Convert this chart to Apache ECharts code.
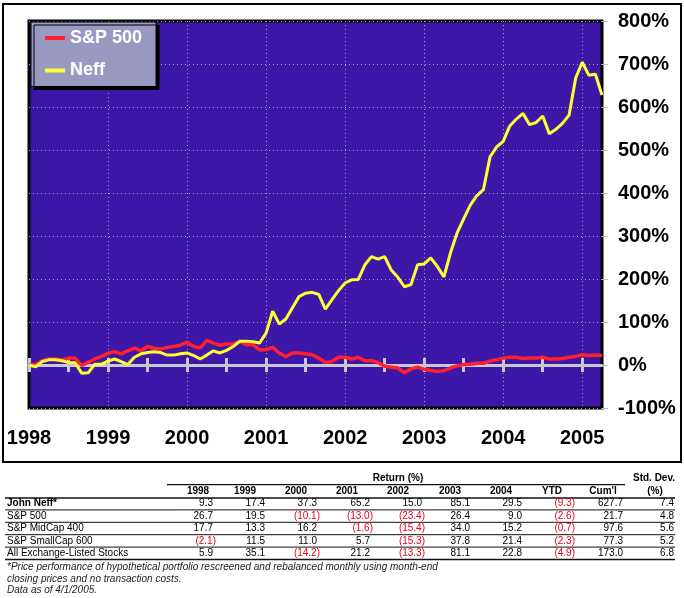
<!DOCTYPE html>
<html>
<head>
<meta charset="utf-8">
<script src="https://cdn.jsdelivr.net/npm/echarts@6/dist/echarts.min.js"></script>
<style>
  html, body { margin: 0; padding: 0; background: #fff; }
  #chart { width: 684px; height: 598px; }
</style>
</head>
<body>
<div id="chart"></div>
<script>
// monthly cumulative return (%), start of Jan 1998 .. start of Apr 2005
var sp500 = [
  0, 1, 10, 14, 14, 12, 16, 16, -1, 6, 14, 20,
  27, 31, 26, 33, 39, 33, 43, 39, 37, 41, 43, 46,
  53, 43, 40, 57, 51, 46, 49, 49, 55, 47, 47, 35,
  36, 41, 28, 19, 28, 28, 26, 24, 16, 6, 8, 18,
  18, 14, 18, 10, 10, 6, -3, -5, -7, -18, -9, -5,
  -10, -13, -15, -13, -7, -2, 1, 2, 4, 4, 9, 12,
  16, 18, 18, 15, 16, 16, 18, 14, 14, 15, 18, 20,
  24, 22, 23, 22
];
var neff = [
  0, -4, 8, 12, 12, 10, 6, 5, -19, -18, 2, 2,
  9, 14, 8, 1, 18, 26, 29, 31, 29, 23, 23, 26,
  28, 22, 14, 23, 33, 28, 34, 43, 55, 55, 54, 51,
  74, 125, 95, 107, 133, 159, 167, 169, 164, 130, 152, 173,
  191, 198, 199, 233, 252, 246, 252, 221, 204, 182, 187, 233,
  235, 249, 229, 205, 261, 307, 340, 372, 394, 408, 484, 507,
  520, 556, 572, 585, 559, 564, 579, 538, 548, 562, 581, 667,
  704, 674, 676, 628
];

// table
var tableCols = ['1998', '1999', '2000', '2001', '2002', '2003', '2004', 'YTD', "Cum'l"];
var rowNames = ['John Neff*', 'S&P 500', 'S&P MidCap 400', 'S&P SmallCap 600', 'All Exchange-Listed Stocks'];
var neffRow = [9.3, 17.4, 37.3, 65.2, 15.0, 85.1, 29.5, -9.3, 627.7];
var sp500Row = [26.7, 19.5, -10.1, -13.0, -23.4, 26.4, 9.0, -2.6, 21.7];
var midCapRow = [17.7, 13.3, 16.2, -1.6, -15.4, 34.0, 15.2, -0.7, 97.6];
var smallCapRow = [-2.1, 11.5, 11.0, 5.7, -15.3, 37.8, 21.4, -2.3, 77.3];
var allStocksRow = [5.9, 35.1, -14.2, 21.2, -13.3, 81.1, 22.8, -4.9, 173.0];
var stdDevs = [7.4, 4.8, 5.6, 5.2, 6.8];
var footnotes = [
  '*Price performance of hypothetical portfolio rescreened and rebalanced monthly using month-end',
  'closing prices and no transaction costs.',
  'Data as of 4/1/2005.'
];

var months = [];
for (var i = 0; i < neff.length; i++) {
  var yr = 1998 + Math.floor(i / 12), m = i % 12 + 1;
  months.push(yr + '-' + (m < 10 ? '0' : '') + m);
}

var FF = 'Arial, "Liberation Sans", sans-serif';
var zeroGrey = '#c8c8d2';
var dotGrey = '#a29eb4';

// table layout
var colRight = [213, 265, 317, 370, 422, 470, 522, 572, 623];
var colHead = [198, 245, 296, 347, 398, 450, 501, 552, 603];
var rowY = [503.7, 516.1, 528.5, 540.9, 553.3];
var rows = [neffRow, sp500Row, midCapRow, smallCapRow, allStocksRow];

function fmt(v) {
  return v < 0 ? '(' + Math.abs(v).toFixed(1) + ')' : v.toFixed(1);
}
function txt(x, y, s, extra) {
  return {
    type: 'text', x: x, y: y, silent: true,
    style: Object.assign({ text: s, font: '10px ' + FF, fill: '#000', align: 'left', verticalAlign: 'middle' }, extra || {})
  };
}
function hline(x1, x2, y, w) {
  return { type: 'line', silent: true, shape: { x1: x1, y1: y, x2: x2, y2: y }, style: { stroke: '#111', lineWidth: w } };
}

var g = [];
g.push({ type: 'rect', silent: true, shape: { x: 3, y: 4, width: 678, height: 458 }, style: { fill: 'none', stroke: '#000', lineWidth: 2 } });
g.push(txt(398, 478, 'Return (%)', { font: 'bold 10px ' + FF, align: 'center' }));
g.push(txt(654, 478, 'Std. Dev.', { font: 'bold 10px ' + FF, align: 'center' }));
g.push(txt(655, 491.3, '(%)', { font: 'bold 10px ' + FF, align: 'center' }));
tableCols.forEach(function (c, k) {
  g.push(txt(colHead[k], 491.3, c, { font: 'bold 10px ' + FF, align: 'center' }));
});
g.push(hline(167, 625, 484.7, 1.2));
g.push(hline(5, 675, 498, 1.6));
[509.9, 522.3, 534.7, 547.1].forEach(function (y) { g.push(hline(5, 675, y, 1)); });
g.push(hline(5, 675, 559.5, 1.6));
rows.forEach(function (r, ri) {
  g.push(txt(7, rowY[ri], rowNames[ri], ri === 0 ? { font: 'bold 10px ' + FF } : {}));
  r.forEach(function (v, k) {
    g.push(txt(colRight[k] + (v < 0 ? 3 : 0), rowY[ri], fmt(v), { align: 'right', fill: v < 0 ? '#e4001b' : '#000' }));
  });
  g.push(txt(674, rowY[ri], fmt(stdDevs[ri]), { align: 'right' }));
});
footnotes.forEach(function (s, k) {
  g.push(txt(7, [567.7, 579.3, 590.3][k], s, { font: 'italic 10px ' + FF, fill: '#222' }));
});

var chart = echarts.init(document.getElementById('chart'));
chart.setOption({
  animation: false,
  backgroundColor: '#fff',
  textStyle: { fontFamily: FF },
  grid: {
    left: 29, right: 82, top: 21, bottom: 190,
    show: true, backgroundColor: '#3c17a8', borderColor: '#000', borderWidth: 3
  },
  legend: {
    left: 31, top: 22,
    orient: 'vertical',
    selectedMode: false,
    backgroundColor: '#9a99c2',
    borderColor: '#000', borderWidth: 1,
    shadowColor: '#000', shadowBlur: 0, shadowOffsetX: 3, shadowOffsetY: 3,
    padding: [7, 14, 7, 14],
    itemWidth: 20, itemHeight: 4, itemGap: 14.5,
    icon: 'rect',
    textStyle: { color: '#fff', fontSize: 18, fontWeight: 'bold', lineHeight: 18, fontFamily: FF },
    data: ['S&P 500', 'Neff']
  },
  xAxis: [{
    type: 'category', data: months, boundaryGap: false, position: 'bottom',
    axisLine: { onZero: true, lineStyle: { color: zeroGrey, width: 3 } },
    axisTick: { inside: true, length: 7, interval: function (i) { return i % 6 === 0; }, lineStyle: { color: zeroGrey, width: 3 } },
    axisLabel: { show: false },
    splitLine: { show: true, interval: function (i) { return i % 12 === 0 && i > 0; }, lineStyle: { color: dotGrey, type: [1, 3], width: 1 } }
  }, {
    type: 'category', data: months, boundaryGap: false, position: 'top',
    axisLine: { onZero: true, onZeroAxisIndex: 1, show: false },
    axisTick: { inside: true, length: 7, interval: function (i) { return i % 6 === 0; }, lineStyle: { color: zeroGrey, width: 3 } },
    axisLabel: { show: false },
    splitLine: { show: false }
  }, {
    type: 'category', data: months, boundaryGap: false, position: 'bottom',
    axisLine: { onZero: false, show: false },
    axisTick: { show: false },
    axisLabel: {
      interval: function (i) { return i % 12 === 0; },
      formatter: function (v) { return v.slice(0, 4); },
      color: '#000', fontSize: 20, fontWeight: 'bold', margin: 20, fontFamily: FF
    },
    splitLine: { show: false }
  }],
  yAxis: [{
    type: 'value', position: 'right', min: -100, max: 800, interval: 100,
    axisLine: { show: false },
    axisTick: { show: true, length: 6, lineStyle: { color: '#bdbdbd', width: 1 } },
    axisLabel: { formatter: '{value}%', color: '#000', fontSize: 20, fontWeight: 'bold', margin: 16, fontFamily: FF },
    splitLine: { show: true, lineStyle: { color: dotGrey, type: [1, 3], width: 1 } }
  }, {
    type: 'value', min: -100, max: 800, interval: 100, show: false,
    splitLine: { show: false }
  }],
  series: [{
    name: 'S&P 500', type: 'line', data: sp500, symbol: 'none', color: '#ff1f2d',
    lineStyle: { width: 3.5, color: '#ff1f2d' }, z: 3
  }, {
    name: 'Neff', type: 'line', data: neff, symbol: 'none', color: '#ffff33',
    lineStyle: { width: 3, color: '#ffff33' }, z: 4
  }],
  graphic: g
});
</script>
</body>
</html>
